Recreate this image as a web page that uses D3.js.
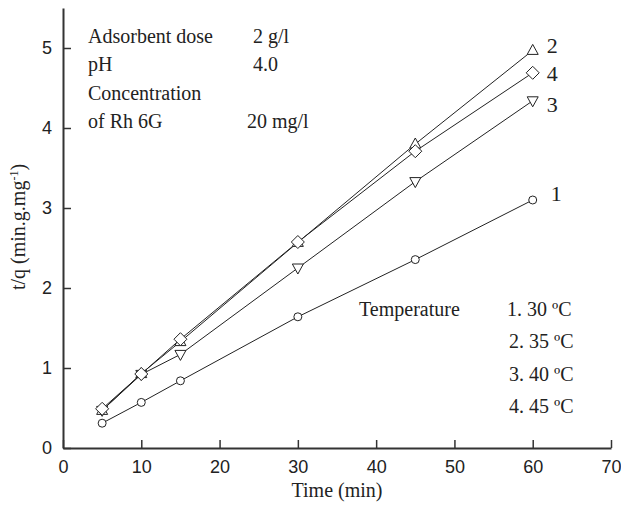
<!DOCTYPE html>
<html>
<head>
<meta charset="utf-8">
<script src="https://cdn.jsdelivr.net/npm/d3@7"></script>
<style>
  body { margin: 0; background: #fff; }
  .tick text { font-family: "Liberation Sans", Arial, sans-serif; font-size: 18px; fill: #222; }
  .lbl { font-family: "Liberation Serif", "Times New Roman", serif; font-size: 20px; fill: #222; }
</style>
</head>
<body>
<svg id="chart" width="621" height="507"></svg>
<script>
const times = [5, 10, 15, 30, 45, 60]
const t30 = [0.31, 0.57, 0.84, 1.64, 2.355, 3.10]
const t35 = [0.47, 0.93, 1.33, 2.57, 3.80, 4.97]
const t40 = [0.47, 0.92, 1.17, 2.25, 3.33, 4.34]
const t45 = [0.49, 0.925, 1.36, 2.575, 3.71, 4.69]
const xTicks = [0, 10, 20, 30, 40, 50, 60, 70]
const yTicks = [0, 1, 2, 3, 4, 5]
const conditions = [['Adsorbent dose', '2 g/l'], ['pH', '4.0'], ['Concentration', ''], ['of Rh 6G', '20 mg/l']]
const tempLabels = ['1. 30 \u00baC', '2. 35 \u00baC', '3. 40 \u00baC', '4. 45 \u00baC']

const margin = { left: 63, right: 10, top: 8, bottom: 59 }
const w = 621
const h = 507

const svg = d3.select('#chart')

const x = d3.scaleLinear()
  .domain([0, 70])
  .range([margin.left, w - margin.right])

const y = d3.scaleLinear()
  .domain([0, 5.5])
  .range([h - margin.bottom, margin.top])

const series = [
  { name: '1', values: t30, symbol: 'circle' },
  { name: '2', values: t35, symbol: 'up' },
  { name: '3', values: t40, symbol: 'down' },
  { name: '4', values: t45, symbol: 'diamond' }
]

const line = d3.line()
  .x((d, i) => x(times[i]))
  .y(d => y(d))

svg.selectAll('path.series')
  .data(series)
  .enter()
  .append('path')
    .attr('class', 'series')
    .attr('d', d => line(d.values))
    .attr('fill', 'none')
    .attr('stroke', '#222')
    .attr('stroke-width', 1)

const symbolPath = {
  circle: d3.symbol().type(d3.symbolCircle).size(50)(),
  up: 'M0,-6L5.5,4L-5.5,4Z',
  down: 'M0,6L5.5,-4L-5.5,-4Z',
  diamond: 'M0,-6.5L6.5,0L0,6.5L-6.5,0Z'
}

series.forEach(s => {
  svg.append('g')
    .selectAll('path')
    .data(s.values)
    .enter()
    .append('path')
      .attr('transform', (d, i) => 'translate(' + x(times[i]) + ',' + y(d) + ')')
      .attr('d', symbolPath[s.symbol])
      .attr('fill', '#fff')
      .attr('stroke', '#222')
      .attr('stroke-width', 1)
})

// curve numbers at the right end
const endOffset = { '1': [18, -7], '2': [14, -5], '3': [14, 3.5], '4': [14, 0] }
series.forEach(s => {
  const last = s.values[s.values.length - 1]
  svg.append('text')
    .attr('class', 'lbl')
    .attr('x', x(60) + endOffset[s.name][0])
    .attr('y', y(last) + endOffset[s.name][1])
    .attr('dy', '0.35em')
    .style('font-size', '22px')
    .text(s.name)
})

const xAxis = d3.axisBottom(x)
  .tickValues(xTicks)
  .tickFormat(d3.format('d'))
  .tickSize(-8)
  .tickPadding(12)
  .tickSizeOuter(0)

const yAxis = d3.axisLeft(y)
  .tickValues(yTicks)
  .tickFormat(d3.format('d'))
  .tickSize(-8)
  .tickPadding(11)
  .tickSizeOuter(0)

const gx = svg.append('g')
  .attr('transform', 'translate(0,' + (h - margin.bottom) + ')')
  .call(xAxis)

const gy = svg.append('g')
  .attr('transform', 'translate(' + margin.left + ',0)')
  .call(yAxis)

gx.select('.domain').attr('stroke', '#333').attr('stroke-width', 2)
gy.select('.domain').attr('stroke', '#333').attr('stroke-width', 2)
gx.selectAll('.tick line').attr('stroke', '#333').attr('stroke-width', 1.5)
gy.selectAll('.tick line').attr('stroke', '#333').attr('stroke-width', 1.5)

// axis titles
svg.append('text')
  .attr('class', 'lbl')
  .attr('x', 337)
  .attr('y', 497)
  .attr('text-anchor', 'middle')
  .text('Time (min)')

const yt = svg.append('text')
  .attr('class', 'lbl')
  .attr('transform', 'translate(25,227) rotate(-90)')
  .attr('text-anchor', 'middle')
yt.append('tspan').text('t/q (min.g.mg')
yt.append('tspan').attr('dy', -7).style('font-size', '12px').text('-1')
yt.append('tspan').attr('dy', 7).text(')')

// conditions block
conditions.forEach((c, i) => {
  svg.append('text')
    .attr('class', 'lbl')
    .attr('x', 88)
    .attr('y', 43 + i * 28.4)
    .text(c[0])
  svg.append('text')
    .attr('class', 'lbl')
    .attr('x', c[1] === '20 mg/l' ? 247 : 253)
    .attr('y', 43 + i * 28.4)
    .text(c[1])
})

svg.append('text')
  .attr('class', 'lbl')
  .attr('x', 359)
  .attr('y', 316)
  .text('Temperature')

tempLabels.forEach((t, i) => {
  svg.append('text')
    .attr('class', 'lbl')
    .attr('x', i === 0 ? 507 : 509)
    .attr('y', 316 + i * 32.3)
    .text(t)
})
</script>
</body>
</html>
